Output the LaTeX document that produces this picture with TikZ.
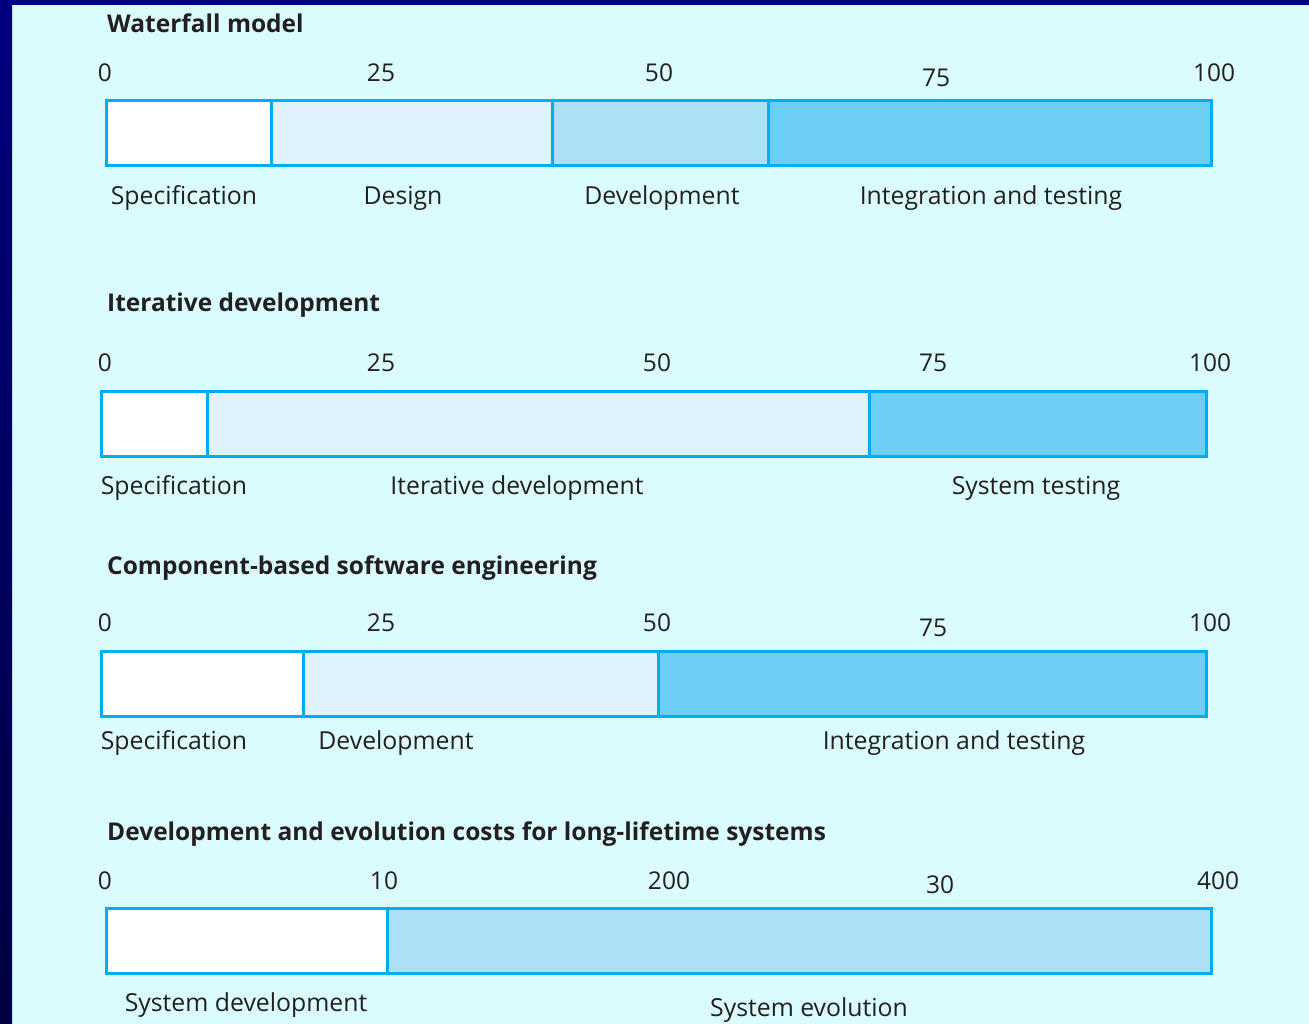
\documentclass[tikz,border=0pt]{standalone}
\usepackage{fontspec}
\setmainfont{Open Sans}
\definecolor{frame}{HTML}{000080}
\definecolor{framedark}{HTML}{000040}
\definecolor{paper}{HTML}{DBFCFF}
\definecolor{edge}{HTML}{00AEEF}
\definecolor{ink}{HTML}{231F20}
\definecolor{paleblue}{HTML}{E0F2FC}
\definecolor{midblue}{HTML}{ACE0F7}
\definecolor{deepblue}{HTML}{6DCEF5}
\begin{document}
\begin{tikzpicture}[x=1pt,y=-1pt,
		phase/.style={rectangle, draw=edge, line width=3pt, fill=white, anchor=north west, minimum height=65pt, inner sep=0pt, outer sep=0pt},
		heading/.style={anchor=west, inner sep=0pt, text=ink, font=\fontsize{24.5}{28}\selectfont\bfseries},
		tick/.style={inner sep=0pt, text=ink, font=\fontsize{24.5}{28}\selectfont},
		phasename/.style={inner sep=0pt, text=ink, font=\fontsize{24.8}{28}\selectfont}
		]
		\useasboundingbox (0,0) rectangle (1309,1024);
		\fill[paper] (0,0) rectangle (1309,1024);
		\shade[top color=frame, bottom color=framedark] (0,0) rectangle (12,1024);
		\fill[frame] (0,0) rectangle (1309,5);

		\node[heading] (wTitle) at (107,23) {Waterfall model};
		\node[tick] (w0) at (105,73) {0};
		\node[tick] (w25) at (381,73) {25};
		\node[tick] (w50) at (659,73) {50};
		\node[tick] (w75) at (936,78) {75};
		\node[tick] (w100) at (1214,73) {100};
		\node[phase, minimum width=165pt] (wSpec) at (106,101) {};
		\node[phase, minimum width=281pt, fill=paleblue] (wDes) at (wSpec.north east) {};
		\node[phase, minimum width=216pt, fill=midblue] (wDev) at (wDes.north east) {};
		\node[phase, minimum width=443pt, fill=deepblue] (wInt) at (wDev.north east) {};
		\node[phasename] (wSpecName) at (184,198) {Specification};
		\node[phasename] (wDesName) at (403,198) {Design};
		\node[phasename] (wDevName) at (662,198) {Development};
		\node[phasename] (wIntName) at (991,198) {Integration and testing};

		\node[heading] (iTitle) at (107,305) {Iterative development};
		\node[tick] (i0) at (105,363) {0};
		\node[tick] (i25) at (381,363) {25};
		\node[tick] (i50) at (657,363) {50};
		\node[tick] (i75) at (933,363) {75};
		\node[tick] (i100) at (1210,363) {100};
		\node[phase, minimum width=106pt] (iSpec) at (101,391) {};
		\node[phase, minimum width=662pt, fill=paleblue] (iDev) at (iSpec.north east) {};
		\node[phase, minimum width=337pt, fill=deepblue] (iTest) at (iDev.north east) {};
		\node[phasename] (iSpecName) at (174,488) {Specification};
		\node[phasename] (iDevName) at (517,488) {Iterative development};
		\node[phasename] (iTestName) at (1036,488) {System testing};

		\node[heading] (cTitle) at (107,568) {Component-based software engineering};
		\node[tick] (c0) at (105,623) {0};
		\node[tick] (c25) at (381,623) {25};
		\node[tick] (c50) at (657,623) {50};
		\node[tick] (c75) at (933,628) {75};
		\node[tick] (c100) at (1210,623) {100};
		\node[phase, minimum width=202pt] (cSpec) at (101,651) {};
		\node[phase, minimum width=355pt, fill=paleblue] (cDev) at (cSpec.north east) {};
		\node[phase, minimum width=548pt, fill=deepblue] (cInt) at (cDev.north east) {};
		\node[phasename] (cSpecName) at (174,743) {Specification};
		\node[phasename] (cDevName) at (396,743) {Development};
		\node[phasename] (cIntName) at (954,743) {Integration and testing};

		\node[heading] (eTitle) at (107,834) {Development and evolution costs for long-lifetime systems};
		\node[tick] (e0) at (105,881) {0};
		\node[tick] (e10) at (384,881) {10};
		\node[tick] (e200) at (669,881) {200};
		\node[tick] (e30) at (940,885) {30};
		\node[tick] (e400) at (1218,881) {400};
		\node[phase, minimum width=281pt] (eDev) at (106,908) {};
		\node[phase, minimum width=824pt, fill=midblue] (eEvo) at (eDev.north east) {};
		\node[phasename] (eDevName) at (246,1005) {System development};
		\node[phasename] (eEvoName) at (809,1010) {System evolution};
\end{tikzpicture}
\end{document}
